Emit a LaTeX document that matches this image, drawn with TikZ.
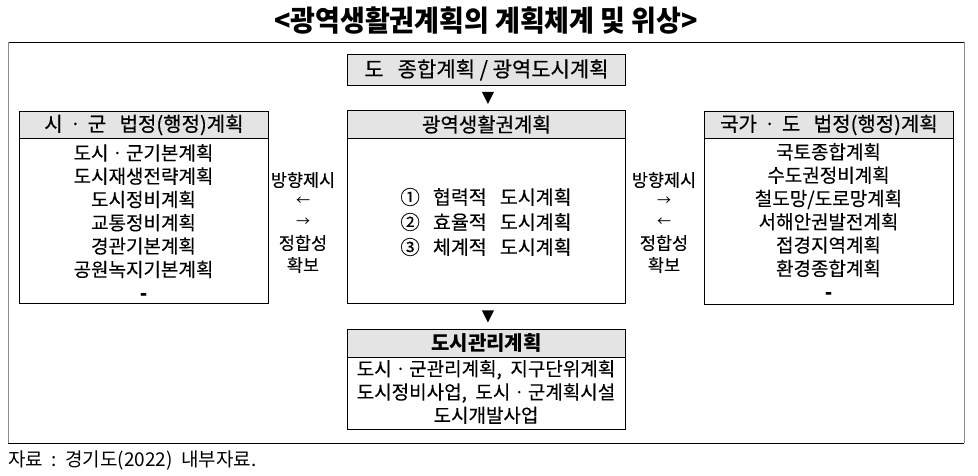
\documentclass[tikz,border=0pt]{standalone}
\usepackage{fontspec}
\setmainfont{Noto Sans CJK KR}
\newfontfamily\ttlfont[FakeStretch=0.93]{Noto Sans CJK KR}
\newfontfamily\hdrfam[FakeBold=0.5]{Noto Sans CJK KR}
\newfontfamily\bodyfam[FakeBold=0.15]{Noto Sans CJK KR}
\definecolor{hdrgray}{HTML}{E4E4E4}
\definecolor{sidegray}{HTML}{8A8A8A}
\usetikzlibrary{calc}
\tikzset{
  frameline/.style={draw=black, line width=0.9pt},
  bodybox/.style={frameline, fill=white, inner sep=0pt, anchor=north west},
  headbox/.style={frameline, fill=hdrgray, inner sep=0pt, anchor=north west, font=\hdrfam\fontsize{20}{22}\selectfont},
  listtxt/.style={inner sep=0pt, align=center, font=\bodyfam\fontsize{19}{23.3}\selectfont},
  sidetxt/.style={inner sep=0pt, font=\bodyfam\fontsize{17.5}{20}\selectfont},
  arrtxt/.style={inner sep=0pt, font=\fontsize{14}{16}\selectfont},
  tri/.style={fill=black}
}
\begin{document}
\begin{tikzpicture}[x=1pt,y=-1pt]
\useasboundingbox (0,0) rectangle (978,475);
% title
\node[inner sep=0pt, font=\ttlfont\bfseries\fontsize{29}{30}\selectfont] (title) at (486,21) {<광역생활권계획의 계획체계 및 위상>};
% outer frame
\draw[black, line width=0.9pt] (8,42) -- (964,42);
\draw[black, line width=0.9pt] (8,443) -- (964,443);
\draw[sidegray, line width=1pt] (8,42) -- (8,443);
\draw[sidegray, line width=1pt] (964,42) -- (964,443);
% top box
\node[headbox, minimum width=278pt, minimum height=31pt, font=\hdrfam\fontsize{21}{22}\selectfont] (topbox) at (347,54) {도\ \ \ 종합계획\ /\ 광역도시계획};
% center box
\node[bodybox, minimum width=278pt, minimum height=193pt] (cbody) at (347,110) {};
\node[headbox, minimum width=278pt, minimum height=28pt] (chead) at (347,110) {광역생활권계획};
\node[listtxt, font=\bodyfam\fontsize{19.5}{25}\selectfont] (ctxt) at (486,222) {①\ \ \ 협력적\ \ \ 도시계획\\②\ \ \ 효율적\ \ \ 도시계획\\③\ \ \ 체계적\ \ \ 도시계획};
% left box
\node[bodybox, minimum width=249pt, minimum height=192pt] (lbody) at (19,111) {};
\node[headbox, minimum width=249pt, minimum height=27pt] (lhead) at (19,111) {시\,ㆍ\,군\ \ \ 법정(행정)계획};
\node[listtxt] (ltxt) at (143.5,222) {도시ㆍ군기본계획\\도시재생전략계획\\도시정비계획\\교통정비계획\\경관기본계획\\공원녹지기본계획\\\textbf{-}};
% right box
\node[bodybox, minimum width=249pt, minimum height=193pt] (rbody) at (704,111) {};
\node[headbox, minimum width=249pt, minimum height=27pt] (rhead) at (704,111) {국가\,ㆍ\,도\ \ \ 법정(행정)계획};
\node[listtxt] (rtxt) at (828.5,221) {국토종합계획\\수도권정비계획\\철도망/도로망계획\\서해안권발전계획\\접경지역계획\\환경종합계획\\\textbf{-}};
% bottom box
\node[bodybox, minimum width=278pt, minimum height=100pt] (bbody) at (347,329) {};
\node[headbox, minimum width=278pt, minimum height=28pt, font=\bfseries\fontsize{20}{22}\selectfont] (bhead) at (347,329) {도시관리계획};
\node[listtxt] (btxt) at (486,392) {도시ㆍ군관리계획,\ \ 지구단위계획\\도시정비사업,\ \ 도시ㆍ군계획시설\\도시개발사업};
% triangles
\coordinate (t1) at ($(topbox.south)!0.5!(chead.north)+(1.5,0)$);
\fill[tri] ($(t1)+(-6,-6)$) -- ($(t1)+(6,-6)$) -- ($(t1)+(0,6)$) -- cycle;
\coordinate (t2) at ($(cbody.south)!0.5!(bhead.north)+(1.5,0)$);
\fill[tri] ($(t2)+(-6,-6)$) -- ($(t2)+(6,-6)$) -- ($(t2)+(0,6)$) -- cycle;
% left relation
\node[sidetxt] (l1) at (303,180) {방향제시};
\node[arrtxt] (l2) at (303,201) {←};
\node[arrtxt] (l3) at (303,222) {→};
\node[sidetxt] (l4) at (303,243) {정합성};
\node[sidetxt] (l5) at (303,265) {확보};
% right relation
\node[sidetxt] (r1) at (664,180) {방향제시};
\node[arrtxt] (r2) at (664,201) {→};
\node[arrtxt] (r3) at (664,222) {←};
\node[sidetxt] (r4) at (664,243) {정합성};
\node[sidetxt] (r5) at (664,265) {확보};
% source
\node[inner sep=0pt, anchor=west, font=\fontsize{19}{20}\selectfont] (src) at (8,460) {자료\ \ :\ \ 경기도(2022)\ \ 내부자료.};
\end{tikzpicture}
\end{document}
